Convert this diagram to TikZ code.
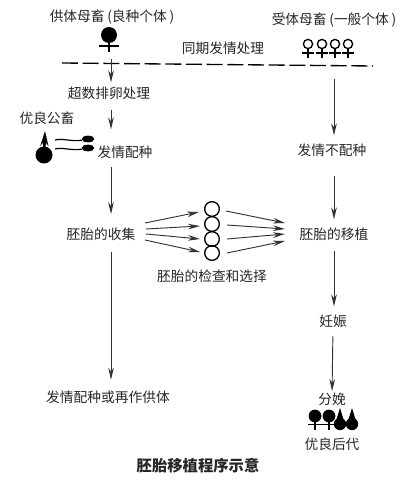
\documentclass[tikz,border=0pt]{standalone}
\usepackage{fontspec}
\newfontfamily\cjk{Noto Sans CJK SC}
\usetikzlibrary{calc,positioning,arrows.meta,shapes}

\tikzset{
  txt/.style={inner sep=0pt, text height=0.8em, text depth=0.1em, text=black!85, font=\cjk\fontsize{10.3}{12}\selectfont},
  flow/.style={draw=black!80, line width=0.7pt, -{Stealth[length=9pt,width=4.2pt]}},
  spermhead/.style={fill, ellipse, inner sep=0pt, minimum width=9.5pt, minimum height=5pt},
  femalefull/.pic={
    \fill (0,0) circle (8);
    \draw[line width=1.1pt] (0,8) -- (0,17) (-10,11) -- (10,11);
  },
  femaleopen/.pic={
    \draw[line width=1pt] (0,0) circle (4.6);
    \draw[line width=1pt] (0,4.6) -- (0,14) (-6,9) -- (6,9);
  },
  femalesmall/.pic={
    \fill (0,0) circle (6.4);
    \draw[line width=1.1pt] (0,5) -- (0,14) (-7,8.5) -- (7,8.5);
  },
  malesmall/.pic={
    \fill (0,0) circle (6.2);
    \fill (-4,-3) -- (0,-16) -- (4,-3) -- cycle;
  },
}

\begin{document}
\begin{tikzpicture}[x=0.75pt,y=-0.75pt]
  \useasboundingbox (0,0) rectangle (400,481);

  \coordinate (stemL) at (111,0);
  \coordinate (stemR) at (334,0);
  \coordinate (dashL) at (62,63);
  \coordinate (dashR) at (373,66);

  \node[txt] (donor) at (112,17) {供体母畜\kern2pt(良种个体\kern2pt)};
  \node[txt] (recipient) at (334,20) {受体母畜\kern2pt(一般个体\kern2pt)};
  \node[txt] (sync) at (223,49) {同期发情处理};
  \node[txt] (superov) at (109,94) {超数排卵处理};
  \node[txt] (sire) at (47,119) {优良公畜};
  \node[txt] (estrusL) at (125,153) {发情配种};
  \node[txt] (estrusR) at (332,151) {发情不配种};
  \node[txt] (collect) at (101,235) {胚胎的收集};
  \node[txt] (transfer) at (334,235) {胚胎的移植};
  \node[txt] (select) at (212,277) {胚胎的检查和选择};
  \node[txt] (again) at (108,398) {发情配种或再作供体};
  \node[txt] (preg) at (333,322) {妊娠};
  \node[txt] (birth) at (332,400) {分娩};
  \node[txt] (young) at (332,445) {优良后代};
  \node[txt, font=\cjk\bfseries\fontsize{11.5}{13}\selectfont] (title) at (198,467) {胚胎移植程序示意};

  \draw[line width=1pt, dash pattern=on 12pt off 3.5pt] (dashL) -- (dashR);

  \pic at (109,35) {femalefull};
  \foreach \x in {308,322,335,348}
    \pic at (\x,44) {femaleopen};
  \foreach \x in {315,329}
    \pic at (\x,416) {femalesmall};
  \foreach \x in {340,352}
    \pic at (\x,424) {malesmall};

  % sire and sperm
  \fill (44,155) circle (8.5);
  \coordinate (sireC) at (44,155);
  \coordinate (sireT) at (45,131);
  \draw[line width=2pt, -{Stealth[length=11pt,width=6pt]}] (sireC) -- (sireT);
  \node[spermhead] (headA) at (88,139) {};
  \node[spermhead] (headB) at (88,148) {};
  \coordinate (tailA) at (55,140);
  \coordinate (tailB) at (55,149);
  \draw[line width=0.9pt] (tailA) .. controls (63,138) and (72,142) .. (headA);
  \draw[line width=0.9pt] (tailB) .. controls (63,147) and (72,151) .. (headB);

  % embryos
  \foreach \n/\y in {1/209,2/224,3/239,4/253}
    \node[draw, circle, line width=1pt, minimum size=11pt, inner sep=0pt] (emb\n) at (212,\y) {};

  \foreach \n/\a/\b/\c/\d in {1/145/223/199/212, 2/146/229/200/226, 3/146/234/200/239, 4/145/240/200/252}{
    \coordinate (inA\n) at (\a,\b);
    \coordinate (inB\n) at (\c,\d);
    \draw[flow] (inA\n) -- (inB\n);
  }
  \foreach \n/\a/\b/\c/\d in {1/226/211/285/223, 2/227/225/285/229, 3/227/239/285/234, 4/227/253/285/241}{
    \coordinate (outA\n) at (\a,\b);
    \coordinate (outB\n) at (\c,\d);
    \draw[flow] (outA\n) -- (outB\n);
  }

  % left column
  \draw[flow, shorten <=-3pt, shorten >=4pt] (stemL |- dashL) -- (superov.north -| stemL);
  \draw[flow, shorten <=7pt, shorten >=13pt] (superov.south -| stemL) -- (estrusL.north -| stemL);
  \draw[flow, shorten <=6pt, shorten >=11pt] (estrusL.south -| stemL) -- (collect.north -| stemL);
  \draw[flow, shorten <=8pt, shorten >=9pt] (collect.south -| stemL) -- (again.north -| stemL);

  % right column
  \draw[flow, shorten <=10pt, shorten >=7pt] (stemR |- dashR) -- (estrusR.north -| stemR);
  \draw[flow, shorten <=14pt, shorten >=7pt] (estrusR.south -| stemR) -- (transfer.north -| stemR);
  \draw[flow, shorten <=7pt, shorten >=7pt] (transfer.south -| stemR) -- (preg.north -| stemR);
  \draw[flow, shorten <=6pt, shorten >=2pt] (preg.south) -- (birth.north);

\end{tikzpicture}
\end{document}
